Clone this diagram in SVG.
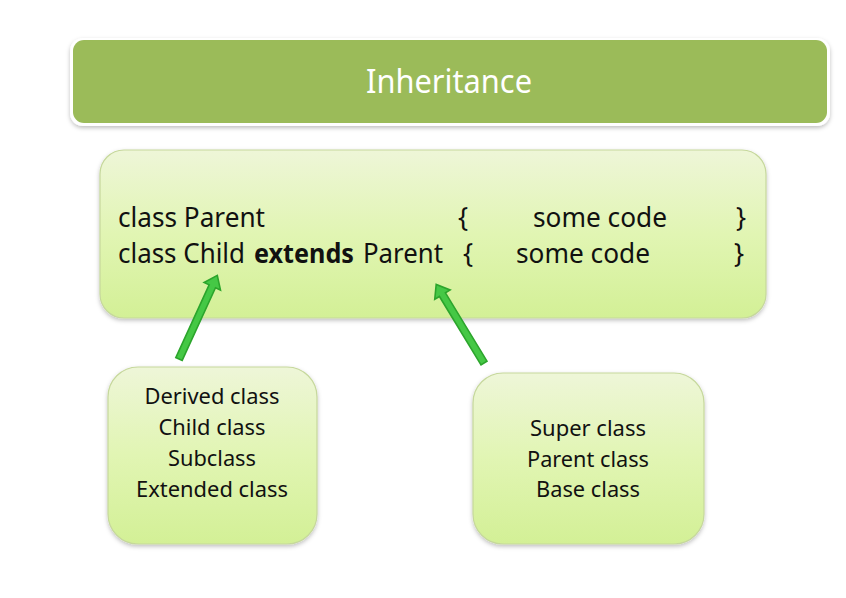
<svg xmlns="http://www.w3.org/2000/svg" width="846" height="598" viewBox="0 0 846 598">
<defs>
  <linearGradient id="boxGrad" x1="0" y1="0" x2="0" y2="1">
    <stop offset="0" stop-color="#EEF6D8"/>
    <stop offset="0.5" stop-color="#E1F5B3"/>
    <stop offset="1" stop-color="#D3F096"/>
  </linearGradient>
  <filter id="shadow" x="-10%" y="-10%" width="120%" height="130%">
    <feDropShadow dx="0" dy="2" stdDeviation="2" flood-color="#000000" flood-opacity="0.25"/>
  </filter>
</defs>
<style>
  .box { fill: url(#boxGrad); stroke: #C6D89C; stroke-width: 1.2; filter: url(#shadow); }
  .code { font-family: "Noto Sans", "Open Sans", sans-serif; font-size: 26.5px; fill: #111111; }
  .lbl { font-family: "Noto Sans", "Open Sans", sans-serif; font-size: 22.5px; fill: #111111; text-anchor: middle; }
  .arrow { fill: #45C845; stroke: #2CA52C; stroke-width: 1.6; stroke-linejoin: miter; }
</style>
<rect width="846" height="598" fill="#FFFFFF"/>

<g id="title">
  <rect x="70" y="38" width="760" height="88" rx="13" fill="#FFFFFF" filter="url(#shadow)"/>
  <rect x="73" y="40" width="754" height="83" rx="11" fill="#9BBB59"/>
  <text x="449" y="93" font-family="Noto Sans, Open Sans, sans-serif" font-size="32" fill="#FFFFFF" text-anchor="middle" textLength="166" lengthAdjust="spacingAndGlyphs">Inheritance</text>
</g>

<g id="code-box">
  <rect class="box" x="100" y="150" width="666" height="168" rx="24"/>
  <text class="code" x="118" y="227" textLength="147" lengthAdjust="spacingAndGlyphs">class Parent</text>
  <text class="code" x="458" y="227">{</text>
  <text class="code" x="533" y="227" textLength="134" lengthAdjust="spacingAndGlyphs">some code</text>
  <text class="code" x="736" y="227">}</text>
  <text class="code" x="118" y="263" textLength="127" lengthAdjust="spacingAndGlyphs">class Child</text>
  <text class="code" x="254" y="263" font-weight="bold" textLength="100" lengthAdjust="spacingAndGlyphs">extends</text>
  <text class="code" x="363" y="263" textLength="80" lengthAdjust="spacingAndGlyphs">Parent</text>
  <text class="code" x="463" y="263">{</text>
  <text class="code" x="516" y="263" textLength="134" lengthAdjust="spacingAndGlyphs">some code</text>
  <text class="code" x="734" y="263">}</text>
</g>

<g id="child-box">
  <rect class="box" x="108" y="367" width="209" height="177" rx="30"/>
  <text class="lbl" x="212" y="404" textLength="135" lengthAdjust="spacingAndGlyphs">Derived class</text>
  <text class="lbl" x="212" y="435" textLength="107" lengthAdjust="spacingAndGlyphs">Child class</text>
  <text class="lbl" x="212" y="466" textLength="88" lengthAdjust="spacingAndGlyphs">Subclass</text>
  <text class="lbl" x="212" y="497" textLength="152" lengthAdjust="spacingAndGlyphs">Extended class</text>
</g>

<g id="parent-box">
  <rect class="box" x="473" y="373" width="231" height="171" rx="30"/>
  <text class="lbl" x="588" y="436" textLength="116" lengthAdjust="spacingAndGlyphs">Super class</text>
  <text class="lbl" x="588" y="467" textLength="122" lengthAdjust="spacingAndGlyphs">Parent class</text>
  <text class="lbl" x="588" y="497" textLength="104" lengthAdjust="spacingAndGlyphs">Base class</text>
</g>

<g id="connectors">
  <polygon class="arrow" transform="translate(179,359) rotate(-65.4)" points="0,-3.5 80,-3.5 80,-9 92,0 80,9 80,3.5 0,3.5"/>
  <polygon class="arrow" transform="translate(484,363) rotate(-121.3)" points="0,-3.5 80,-3.5 80,-9 92,0 80,9 80,3.5 0,3.5"/>
</g>
</svg>
